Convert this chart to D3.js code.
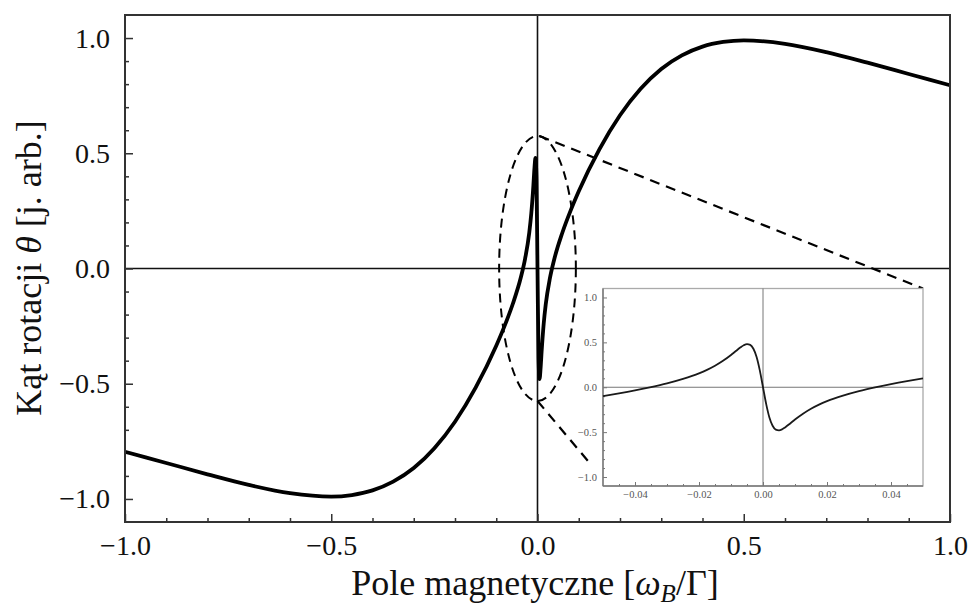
<!DOCTYPE html>
<html>
<head>
<meta charset="utf-8">
<script src="https://cdn.jsdelivr.net/npm/d3@7/dist/d3.min.js"></script>
<style>
  html, body { margin: 0; padding: 0; background: #fff; }
  svg { display: block; }
</style>
</head>
<body>
<svg id="chart" width="971" height="611"></svg>
<script>
// Rotation angle vs. magnetic field: broad dispersive curve plus a narrow feature near zero field.
const mainField = [-1.0, -0.9, -0.8, -0.7, -0.6, -0.5, -0.45, -0.4, -0.35, -0.3, -0.25, -0.2, -0.15, -0.1, -0.08, -0.06, -0.04, -0.03, -0.02, -0.015, -0.01, -0.0075, -0.005, -0.0025, 0,
                   0.0025, 0.005, 0.0075, 0.01, 0.015, 0.02, 0.03, 0.04, 0.06, 0.08, 0.1, 0.15, 0.2, 0.25, 0.3, 0.35, 0.4, 0.45, 0.5, 0.6, 0.7, 0.8, 0.9, 1.0];
const mainRotation = [-0.795, -0.844, -0.893, -0.939, -0.975, -0.990, -0.983, -0.963, -0.925, -0.866, -0.780, -0.665, -0.517, -0.335, -0.250, -0.154, -0.036, 0.043, 0.155, 0.240, 0.360, 0.432, 0.480, 0.390, 0,
                      -0.390, -0.480, -0.432, -0.360, -0.240, -0.155, -0.043, 0.036, 0.154, 0.250, 0.335, 0.517, 0.665, 0.780, 0.866, 0.925, 0.963, 0.983, 0.990, 0.975, 0.939, 0.893, 0.844, 0.795];

// Close-up of the narrow feature
const insetField = [-0.05, -0.045, -0.04, -0.035, -0.03, -0.025, -0.02, -0.0175, -0.015, -0.0125, -0.01, -0.0085, -0.007, -0.006, -0.005, -0.004, -0.003, -0.002, -0.001, 0,
                    0.001, 0.002, 0.003, 0.004, 0.005, 0.006, 0.007, 0.0085, 0.01, 0.0125, 0.015, 0.0175, 0.02, 0.025, 0.03, 0.035, 0.04, 0.045, 0.05];
const insetRotation = [-0.099, -0.069, -0.036, 0.001, 0.043, 0.093, 0.155, 0.194, 0.240, 0.295, 0.360, 0.403, 0.445, 0.468, 0.480, 0.472, 0.429, 0.337, 0.188, 0,
                       -0.188, -0.337, -0.429, -0.472, -0.480, -0.468, -0.445, -0.403, -0.360, -0.295, -0.240, -0.194, -0.155, -0.093, -0.043, -0.001, 0.036, 0.069, 0.099];

const mainXTicks = [-1, -0.5, 0, 0.5, 1];
const mainYTicks = [-1, -0.5, 0, 0.5, 1];
const mainMinorTicks = [-0.9, -0.8, -0.7, -0.6, -0.4, -0.3, -0.2, -0.1, 0.1, 0.2, 0.3, 0.4, 0.6, 0.7, 0.8, 0.9];
const insetXTicks = [-0.04, -0.02, 0, 0.02, 0.04];
const insetXMinor = [-0.045, -0.035, -0.03, -0.025, -0.015, -0.01, -0.005, 0.005, 0.01, 0.015, 0.025, 0.03, 0.035, 0.045];
const insetYTicks = [-1, -0.5, 0, 0.5, 1];
const insetYMinor = [-0.9, -0.8, -0.7, -0.6, -0.4, -0.3, -0.2, -0.1, 0.1, 0.2, 0.3, 0.4, 0.6, 0.7, 0.8, 0.9];

// Highlighted zero-field region (data units) and connector end points
const zoomRegion = { cx: 0, cy: 0, rx: 0.093, ry: 0.575 };
const upperConnectorStart = [0.005, 0.575];
const lowerConnectorStart = [0, -0.575];
const lowerConnectorEnd = [0.127, -0.845];

const svg = d3.select("#chart");
const serif = "'Liberation Serif', 'Times New Roman', serif";
const fmt1 = d3.format(".1f");
const fmt2 = d3.format(".2f");

// ---------- main panel ----------
const box = { left: 125, right: 950, top: 15, bottom: 522 };
const x = d3.scaleLinear().domain([-1, 1]).range([box.left, box.right]);
const y = d3.scaleLinear().domain([-1.1, 1.1]).range([box.bottom, box.top]);

const main = svg.append("g");

// zero lines
main.append("line").attr("x1", x(-1)).attr("x2", x(1)).attr("y1", y(0)).attr("y2", y(0))
  .attr("stroke", "#111").attr("stroke-width", 1.6);
main.append("line").attr("x1", x(0)).attr("x2", x(0)).attr("y1", box.top).attr("y2", box.bottom)
  .attr("stroke", "#111").attr("stroke-width", 1.6);

// inward ticks on bottom and left
const xAxis = d3.axisBottom(x).tickValues(mainXTicks).tickSizeInner(-8).tickSizeOuter(0).tickFormat(fmt1).tickPadding(13);
const xAxisMinor = d3.axisBottom(x).tickValues(mainMinorTicks).tickSizeInner(-4).tickSizeOuter(0).tickFormat("");
const yAxis = d3.axisLeft(y).tickValues(mainYTicks).tickSizeInner(-8).tickSizeOuter(0).tickFormat(fmt1).tickPadding(15);
const yAxisMinor = d3.axisLeft(y).tickValues(mainMinorTicks).tickSizeInner(-4).tickSizeOuter(0).tickFormat("");

function styleAxis(g, color, width, fontSize, textColor) {
  g.select(".domain").remove();
  g.selectAll(".tick line").attr("stroke", color).attr("stroke-width", width);
  g.selectAll(".tick text").attr("font-family", serif).attr("font-size", fontSize).attr("fill", textColor);
}

main.append("g").attr("transform", `translate(0,${box.bottom})`).call(xAxisMinor).call(g => styleAxis(g, "#333", 1.5, 0, "#000"));
main.append("g").attr("transform", `translate(0,${box.bottom})`).call(xAxis).call(g => styleAxis(g, "#333", 1.5, 28, "#111"));
main.append("g").attr("transform", `translate(${box.left},0)`).call(yAxisMinor).call(g => styleAxis(g, "#333", 1.5, 0, "#000"));
main.append("g").attr("transform", `translate(${box.left},0)`).call(yAxis).call(g => styleAxis(g, "#333", 1.5, 28, "#111"));

// curve
const mainPoints = mainField.map((f, i) => [f, mainRotation[i]]);
const mainLine = d3.line().x(d => x(d[0])).y(d => y(d[1])).curve(d3.curveMonotoneX);
main.append("path").datum(mainPoints).attr("d", mainLine)
  .attr("fill", "none").attr("stroke", "#000").attr("stroke-width", 3.8).attr("stroke-linejoin", "round");

// frame
main.append("rect").attr("x", box.left).attr("y", box.top)
  .attr("width", box.right - box.left).attr("height", box.bottom - box.top)
  .attr("fill", "none").attr("stroke", "#333").attr("stroke-width", 2);

// highlighted region and connectors
main.append("ellipse")
  .attr("cx", x(zoomRegion.cx)).attr("cy", y(zoomRegion.cy))
  .attr("rx", x(zoomRegion.rx) - x(0)).attr("ry", y(0) - y(zoomRegion.ry))
  .attr("fill", "none").attr("stroke", "#000").attr("stroke-width", 2).attr("stroke-dasharray", "9,6");

// ---------- inset panel ----------
const ibox = { left: 603, right: 923, top: 288.5, bottom: 486 };
const ix = d3.scaleLinear().domain([-0.05, 0.05]).range([ibox.left, ibox.right]);
const iy = d3.scaleLinear().domain([-1.1, 1.1]).range([ibox.bottom, ibox.top]);

main.append("line")
  .attr("x1", x(upperConnectorStart[0])).attr("y1", y(upperConnectorStart[1]))
  .attr("x2", ibox.right).attr("y2", ibox.top)
  .attr("stroke", "#000").attr("stroke-width", 2.2).attr("stroke-dasharray", "10,7");
main.append("line")
  .attr("x1", x(lowerConnectorStart[0])).attr("y1", y(lowerConnectorStart[1]))
  .attr("x2", x(lowerConnectorEnd[0])).attr("y2", y(lowerConnectorEnd[1]))
  .attr("stroke", "#000").attr("stroke-width", 2.2).attr("stroke-dasharray", "10,7");

const inset = svg.append("g");
inset.append("rect").attr("x", ibox.left).attr("y", ibox.top)
  .attr("width", ibox.right - ibox.left).attr("height", ibox.bottom - ibox.top)
  .attr("fill", "#fff").attr("stroke", "#aaa").attr("stroke-width", 1.3);

inset.append("line").attr("x1", ibox.left).attr("x2", ibox.right).attr("y1", iy(0)).attr("y2", iy(0))
  .attr("stroke", "#777").attr("stroke-width", 1);
inset.append("line").attr("x1", ix(0)).attr("x2", ix(0)).attr("y1", ibox.top).attr("y2", ibox.bottom)
  .attr("stroke", "#777").attr("stroke-width", 1);

const ixAxis = d3.axisBottom(ix).tickValues(insetXTicks).tickSizeInner(-4).tickSizeOuter(0).tickFormat(fmt2).tickPadding(5);
const ixAxisMinor = d3.axisBottom(ix).tickValues(insetXMinor).tickSizeInner(-2).tickSizeOuter(0).tickFormat("");
const iyAxis = d3.axisLeft(iy).tickValues(insetYTicks).tickSizeInner(-4).tickSizeOuter(0).tickFormat(fmt1).tickPadding(6);
const iyAxisMinor = d3.axisLeft(iy).tickValues(insetYMinor).tickSizeInner(-2).tickSizeOuter(0).tickFormat("");

inset.append("g").attr("transform", `translate(0,${ibox.bottom})`).call(ixAxisMinor).call(g => styleAxis(g, "#777", 1, 0, "#000"));
inset.append("g").attr("transform", `translate(0,${ibox.bottom})`).call(ixAxis).call(g => styleAxis(g, "#777", 1, 10.5, "#555"));
inset.append("g").attr("transform", `translate(${ibox.left},0)`).call(iyAxisMinor).call(g => styleAxis(g, "#777", 1, 0, "#000"));
inset.append("g").attr("transform", `translate(${ibox.left},0)`).call(iyAxis).call(g => styleAxis(g, "#777", 1, 10.5, "#555"));

// darker left and bottom frame edges
inset.append("line").attr("x1", ibox.left).attr("x2", ibox.left).attr("y1", ibox.top).attr("y2", ibox.bottom)
  .attr("stroke", "#777").attr("stroke-width", 1.4);
inset.append("line").attr("x1", ibox.left).attr("x2", ibox.right).attr("y1", ibox.bottom).attr("y2", ibox.bottom)
  .attr("stroke", "#777").attr("stroke-width", 1.4);

const insetPoints = insetField.map((f, i) => [f, insetRotation[i]]);
const insetLine = d3.line().x(d => ix(d[0])).y(d => iy(d[1])).curve(d3.curveMonotoneX);
inset.append("path").datum(insetPoints).attr("d", insetLine)
  .attr("fill", "none").attr("stroke", "#1a1a1a").attr("stroke-width", 1.8);

// ---------- axis titles ----------
const xTitle = svg.append("text")
  .attr("x", 535).attr("y", 595)
  .attr("text-anchor", "middle")
  .attr("font-family", serif).attr("font-size", 36).attr("fill", "#111");
xTitle.append("tspan").text("Pole magnetyczne [");
xTitle.append("tspan").attr("font-style", "italic").text("ω");
xTitle.append("tspan").attr("font-style", "italic").attr("font-size", 25).attr("dy", 7).text("B");
xTitle.append("tspan").attr("dy", -7).text("/Γ]");

const yTitle = svg.append("text")
  .attr("transform", "translate(41,268) rotate(-90)")
  .attr("text-anchor", "middle")
  .attr("font-family", serif).attr("font-size", 36).attr("fill", "#111");
yTitle.append("tspan").text("Kąt rotacji ");
yTitle.append("tspan").attr("font-style", "italic").text("θ");
yTitle.append("tspan").text(" [j. arb.]");
</script>
</body>
</html>
